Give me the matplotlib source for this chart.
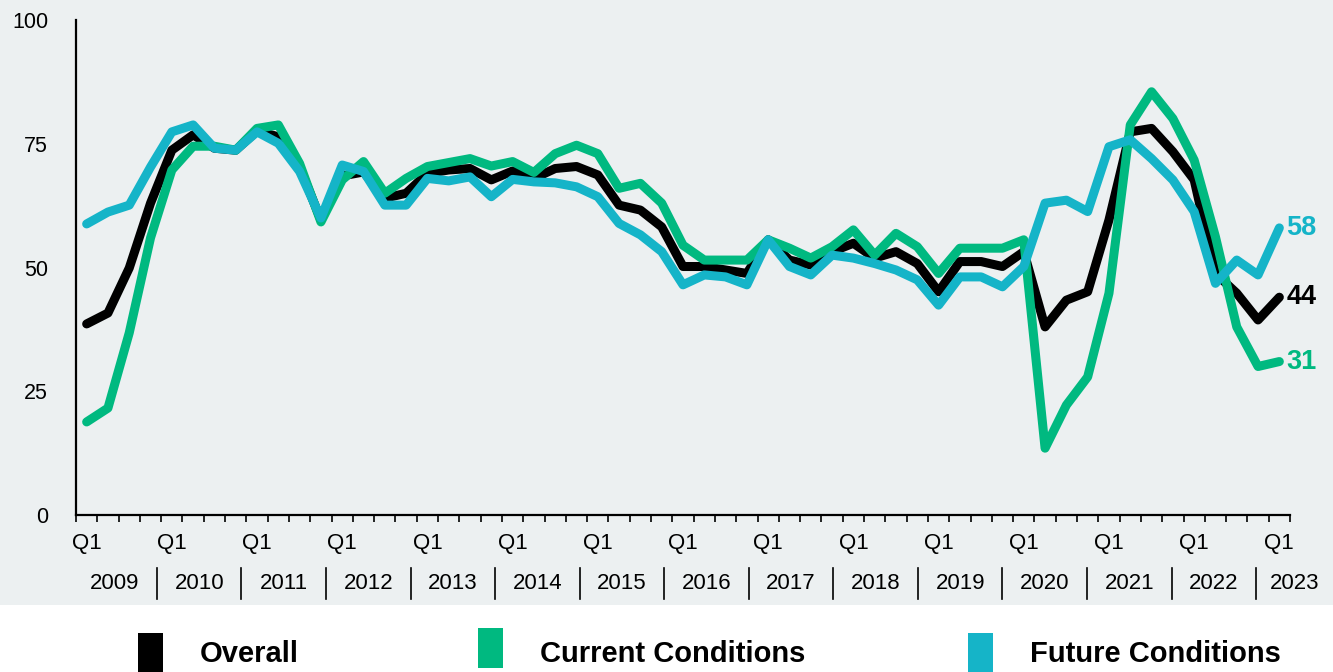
import matplotlib
matplotlib.use("Agg")
import matplotlib.pyplot as plt
from matplotlib.patches import Rectangle
from matplotlib import font_manager as fm

# ---------------- data ----------------
years = [str(y) for y in range(2009, 2024)]
quarter_labels = ["Q1", "Q2", "Q3", "Q4"]

overall = [38.6, 40.8, 49.9, 63.0, 73.7, 76.8, 74.1, 73.7, 77.6, 76.4, 70.3, 59.6,
           68.5, 69.3, 64.0, 65.0, 69.0, 69.7, 70.0, 67.7, 69.5, 68.0, 70.0, 70.4,
           68.7, 62.6, 61.6, 58.2, 50.2, 50.2, 49.5, 48.8, 55.6, 51.5, 50.5, 53.2,
           54.9, 51.9, 53.2, 50.8, 45.1, 51.2, 51.2, 50.2, 53.2, 38.0, 43.4, 45.1,
           59.6, 77.4, 78.1, 73.4, 67.7, 48.8, 44.8, 39.4, 44.0]
current = [18.8, 21.6, 36.8, 56.0, 69.7, 74.5, 74.5, 73.7, 78.1, 78.8, 71.0, 59.2,
           67.7, 71.4, 65.0, 68.0, 70.4, 71.2, 72.0, 70.5, 71.4, 69.2, 73.0, 74.7,
           73.0, 66.0, 67.0, 63.0, 54.5, 51.5, 51.5, 51.5, 55.6, 53.9, 51.9, 54.2,
           57.6, 52.5, 56.9, 54.2, 48.8, 53.9, 53.9, 53.9, 55.6, 13.5, 22.2, 27.9,
           44.8, 78.8, 85.5, 80.1, 71.7, 56.2, 38.0, 30.0, 31.0]
future = [58.8, 61.2, 62.6, 70.3, 77.4, 78.8, 74.1, 73.7, 77.4, 75.1, 69.4, 60.0,
          70.7, 69.4, 62.6, 62.6, 68.0, 67.5, 68.3, 64.3, 67.8, 67.3, 67.1, 66.3,
          64.3, 58.9, 56.6, 53.2, 46.5, 48.5, 48.1, 46.5, 55.6, 50.2, 48.5, 52.5,
          51.9, 50.8, 49.5, 47.5, 42.4, 48.1, 48.1, 46.1, 50.2, 63.0, 63.6, 61.3,
          74.4, 75.8, 72.0, 67.7, 61.3, 46.8, 51.5, 48.5, 58.0]
end_labels = ["44", "31", "58"]
series_names = ["Overall", "Current Conditions", "Future Conditions"]
yticks = [0, 25, 50, 75, 100]

# ---------------- style ----------------
C_OVERALL = "#000000"
C_CURRENT = "#00B980"
C_FUTURE = "#15B4C8"
BG = "#ECF0F1"

def pick(names):
    for n in names:
        try:
            fm.findfont(n, fallback_to_default=False)
            return n
        except Exception:
            pass
    return "DejaVu Sans"

FONT = pick(["Liberation Sans", "Arial", "DejaVu Sans"])
plt.rcParams["font.family"] = [FONT, "DejaVu Sans"]

W, H, DPI = 1333, 672, 100
fig = plt.figure(figsize=(W / DPI, H / DPI), dpi=DPI, facecolor="white")

# grey background band
fig.patches.append(Rectangle((0, 1 - 605 / H), 1, 605 / H, transform=fig.transFigure,
                             facecolor=BG, edgecolor="none", zorder=-10))

ax = fig.add_axes([76 / W, 1 - 515 / H, (1290 - 76) / W, (515 - 20) / H])
ax.set_facecolor("none")

n = len(overall)
x = list(range(n))
LW = 6.5
ax.plot(x, overall, color=C_OVERALL, lw=LW, solid_capstyle="round", zorder=3)
ax.plot(x, current, color=C_CURRENT, lw=LW, solid_capstyle="round", zorder=4)
ax.plot(x, future, color=C_FUTURE, lw=LW, solid_capstyle="round", zorder=5)

ax.set_xlim(-0.5, n - 0.5)
ax.set_ylim(0, 100)

for s in ["top", "right"]:
    ax.spines[s].set_visible(False)
for s in ["left", "bottom"]:
    ax.spines[s].set_linewidth(1.6)
    ax.spines[s].set_color("black")

ax.set_yticks(yticks)
ax.set_yticklabels([str(v) for v in yticks], fontsize=15.5)
ax.tick_params(axis="y", length=0, pad=20)

q1_pos = list(range(0, n, 4))
ax.set_xticks(q1_pos)
ax.set_xticklabels([quarter_labels[0]] * len(q1_pos), fontsize=16)
ax.tick_params(axis="x", which="major", length=0, pad=13)
ax.set_xticks([i - 0.5 for i in range(n + 1)], minor=True)
ax.tick_params(axis="x", which="minor", length=5, width=1.2, direction="out", color="black")

# year labels with separators (year band slightly narrower than the quarter grid)
trans = ax.get_xaxis_transform()
sep0, step = 3.3, 3.97
seps = [sep0 - step] + [sep0 + k * step for k in range(len(years) - 1)] + [n + 1.5]
for j, yr in enumerate(years):
    left, right = seps[j], seps[j + 1]
    ax.text((left + right) / 2, -0.138, yr, transform=trans, ha="center", va="center",
            fontsize=16, clip_on=False)
    if j > 0:
        ax.plot([left, left], [-0.107, -0.170], transform=trans,
                color="black", lw=1.2, clip_on=False)

# end labels
for vals, lab, col in [(overall, end_labels[0], C_OVERALL),
                       (current, end_labels[1], C_CURRENT),
                       (future, end_labels[2], C_FUTURE)]:
    ax.annotate(lab, xy=(n - 1, vals[-1]), xytext=(5, 0), textcoords="offset points",
                ha="left", va="center", fontsize=19.5, fontweight="bold", color=col,
                annotation_clip=False)

# legend
legend_items = [(series_names[0], C_OVERALL, 138, 633, 672, 200),
                (series_names[1], C_CURRENT, 478, 628, 668, 540),
                (series_names[2], C_FUTURE, 968, 633, 672, 1030)]
for name, col, sx, top, bot, tx in legend_items:
    fig.patches.append(Rectangle((sx / W, 1 - bot / H), 25 / W, (bot - top) / H,
                                 transform=fig.transFigure, facecolor=col,
                                 edgecolor="none"))
    fig.text(tx / W, 1 - 654 / H, name, fontsize=21, fontweight="bold",
             ha="left", va="center", color="black")

fig.savefig("out.png", dpi=DPI, facecolor="white")
